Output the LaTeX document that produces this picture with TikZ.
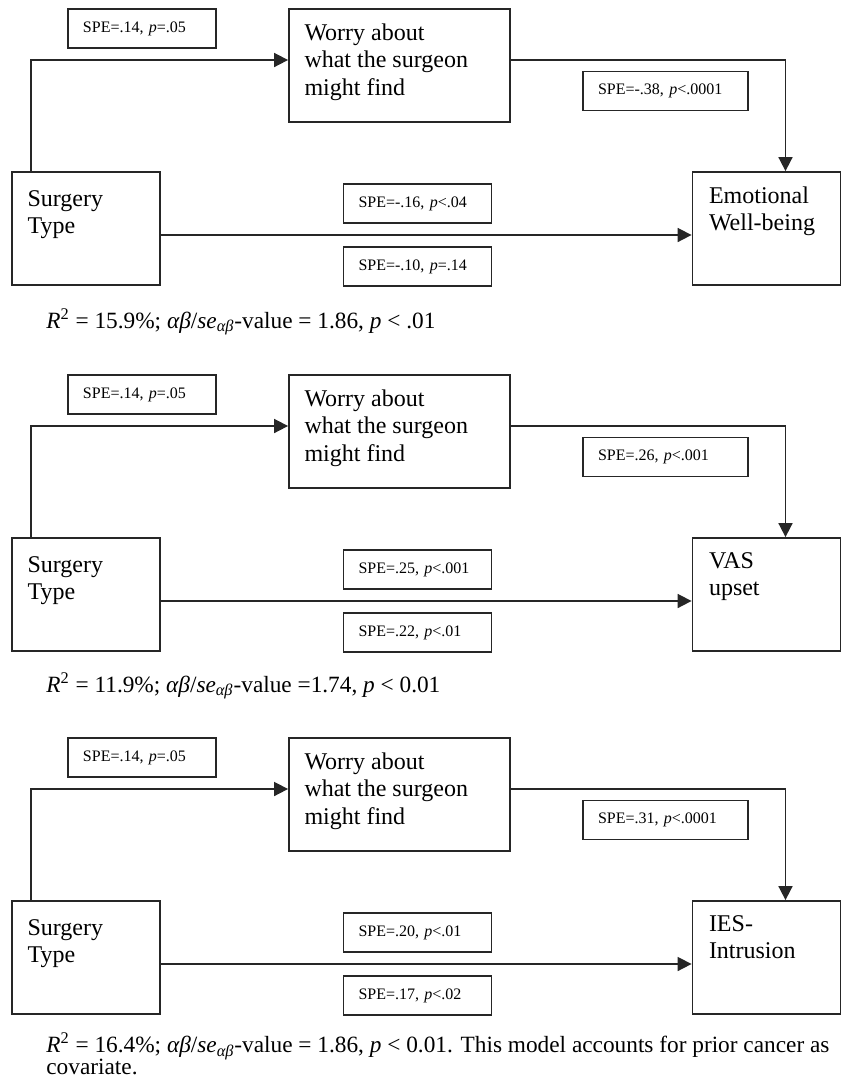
\documentclass[tikz,border=0pt]{standalone}
\usepackage{fontspec}
\setmainfont{Liberation Serif}
\usetikzlibrary{arrows.meta}

\tikzset{
    varbox/.style={draw=black!85,line width=0.9pt,inner sep=0pt,minimum width=74pt,minimum height=56.5pt},
    vartext/.style={inner sep=0pt,anchor=north west,align=left,font=\fontsize{12}{13.75}\selectfont},
    spebox/.style={draw=black!85,line width=0.9pt,inner xsep=7.5pt,inner ysep=0pt,minimum height=19.5pt,text width=#1,align=left,font=\fontsize{8}{9.6}\selectfont},
    spebox/.default=59pt,
    link/.style={draw=black!85,line width=0.85pt,-{Triangle[length=7pt,width=7pt]}},
    captext/.style={inner sep=0pt,anchor=base west,align=left,font=\fontsize{11.65}{10.75}\selectfont\setlength{\lineskiplimit}{-6pt}}
}

\begin{document}
\begin{tikzpicture}[x=0.5pt,y=-0.5pt]
    \useasboundingbox (0,0) rectangle (841,1084);

    % panel 1: emotional well-being
    \node[varbox] (surg1) at (86,228.5) {};
    \node[vartext] (surg1t) at ([xshift=8pt,yshift=-9.5pt]surg1.north west) {Surgery\\Type};
    \node[varbox,minimum width=110.5pt] (worry1) at (399.5,65.5) {};
    \node[vartext] (worry1t) at ([xshift=8pt,yshift=-7.5pt]worry1.north west) {Worry about\\what the surgeon\\might find};
    \node[varbox] (emo1) at (766.5,228.5) {};
    \node[vartext] (emo1t) at ([xshift=8.5pt,yshift=-7.5pt]emo1.north west) {Emotional\\Well-being};

    \node[spebox] (spe1a) at (142,28.5) {SPE=.14, \textit{p}=.05};
    \node[spebox=67.5pt] (spe1b) at (665.5,91) {SPE=-.38, \textit{p}<.0001};
    \node[spebox] (spe1c) at (417.5,203.5) {SPE=-.16, \textit{p}<.04};
    \node[spebox] (spe1d) at (417.5,266.5) {SPE=-.10, \textit{p}=.14};

    \draw[link] ([xshift=-27.5pt]surg1.north) |- ([yshift=2.75pt]worry1.west);
    \draw[link] ([yshift=2.75pt]worry1.east) -| ([xshift=9.5pt]emo1.north);
    \draw[link] ([yshift=-3.25pt]surg1.east) -- ([yshift=-3.25pt]emo1.west);

    \node[captext] (cap1) at (46,328) {\textit{R}\textsuperscript{2} = 15.9\%; \textit{αβ}/\textit{se}\textsubscript{\textit{αβ}}-value = 1.86, \textit{p} < .01};

    % panel 2: VAS upset
    \node[varbox] (surg2) at (86,594.5) {};
    \node[vartext] (surg2t) at ([xshift=8pt,yshift=-9.5pt]surg2.north west) {Surgery\\Type};
    \node[varbox,minimum width=110.5pt] (worry2) at (399.5,431.5) {};
    \node[vartext] (worry2t) at ([xshift=8pt,yshift=-7.5pt]worry2.north west) {Worry about\\what the surgeon\\might find};
    \node[varbox] (vas2) at (766.5,594.5) {};
    \node[vartext] (vas2t) at ([xshift=8.5pt,yshift=-7.5pt]vas2.north west) {VAS\\upset};

    \node[spebox] (spe2a) at (142,394.5) {SPE=.14, \textit{p}=.05};
    \node[spebox=67.5pt] (spe2b) at (665.5,457) {SPE=.26, \textit{p}<.001};
    \node[spebox] (spe2c) at (417.5,569.5) {SPE=.25, \textit{p}<.001};
    \node[spebox] (spe2d) at (417.5,632.5) {SPE=.22, \textit{p}<.01};

    \draw[link] ([xshift=-27.5pt]surg2.north) |- ([yshift=2.75pt]worry2.west);
    \draw[link] ([yshift=2.75pt]worry2.east) -| ([xshift=9.5pt]vas2.north);
    \draw[link] ([yshift=-3.25pt]surg2.east) -- ([yshift=-3.25pt]vas2.west);

    \node[captext] (cap2) at (46,692) {\textit{R}\textsuperscript{2} = 11.9\%; \textit{αβ}/\textit{se}\textsubscript{\textit{αβ}}-value =1.74, \textit{p} < 0.01};

    % panel 3: IES intrusion
    \node[varbox] (surg3) at (86,957.5) {};
    \node[vartext] (surg3t) at ([xshift=8pt,yshift=-9.5pt]surg3.north west) {Surgery\\Type};
    \node[varbox,minimum width=110.5pt] (worry3) at (399.5,794.5) {};
    \node[vartext] (worry3t) at ([xshift=8pt,yshift=-7.5pt]worry3.north west) {Worry about\\what the surgeon\\might find};
    \node[varbox] (ies3) at (766.5,957.5) {};
    \node[vartext] (ies3t) at ([xshift=8.5pt,yshift=-7.5pt]ies3.north west) {IES-\\Intrusion};

    \node[spebox] (spe3a) at (142,757.5) {SPE=.14, \textit{p}=.05};
    \node[spebox=67.5pt] (spe3b) at (665.5,820) {SPE=.31, \textit{p}<.0001};
    \node[spebox] (spe3c) at (417.5,932.5) {SPE=.20, \textit{p}<.01};
    \node[spebox] (spe3d) at (417.5,995.5) {SPE=.17, \textit{p}<.02};

    \draw[link] ([xshift=-27.5pt]surg3.north) |- ([yshift=2.75pt]worry3.west);
    \draw[link] ([yshift=2.75pt]worry3.east) -| ([xshift=9.5pt]ies3.north);
    \draw[link] ([yshift=-3.25pt]surg3.east) -- ([yshift=-3.25pt]ies3.west);

    % two lines: base west sits on the last line
    \node[captext] (cap3) at (46,1074) {\textit{R}\textsuperscript{2} = 16.4\%; \textit{αβ}/\textit{se}\textsubscript{\textit{αβ}}-value = 1.86, \textit{p} < 0.01. This model accounts for prior cancer as\\covariate.};
\end{tikzpicture}
\end{document}
